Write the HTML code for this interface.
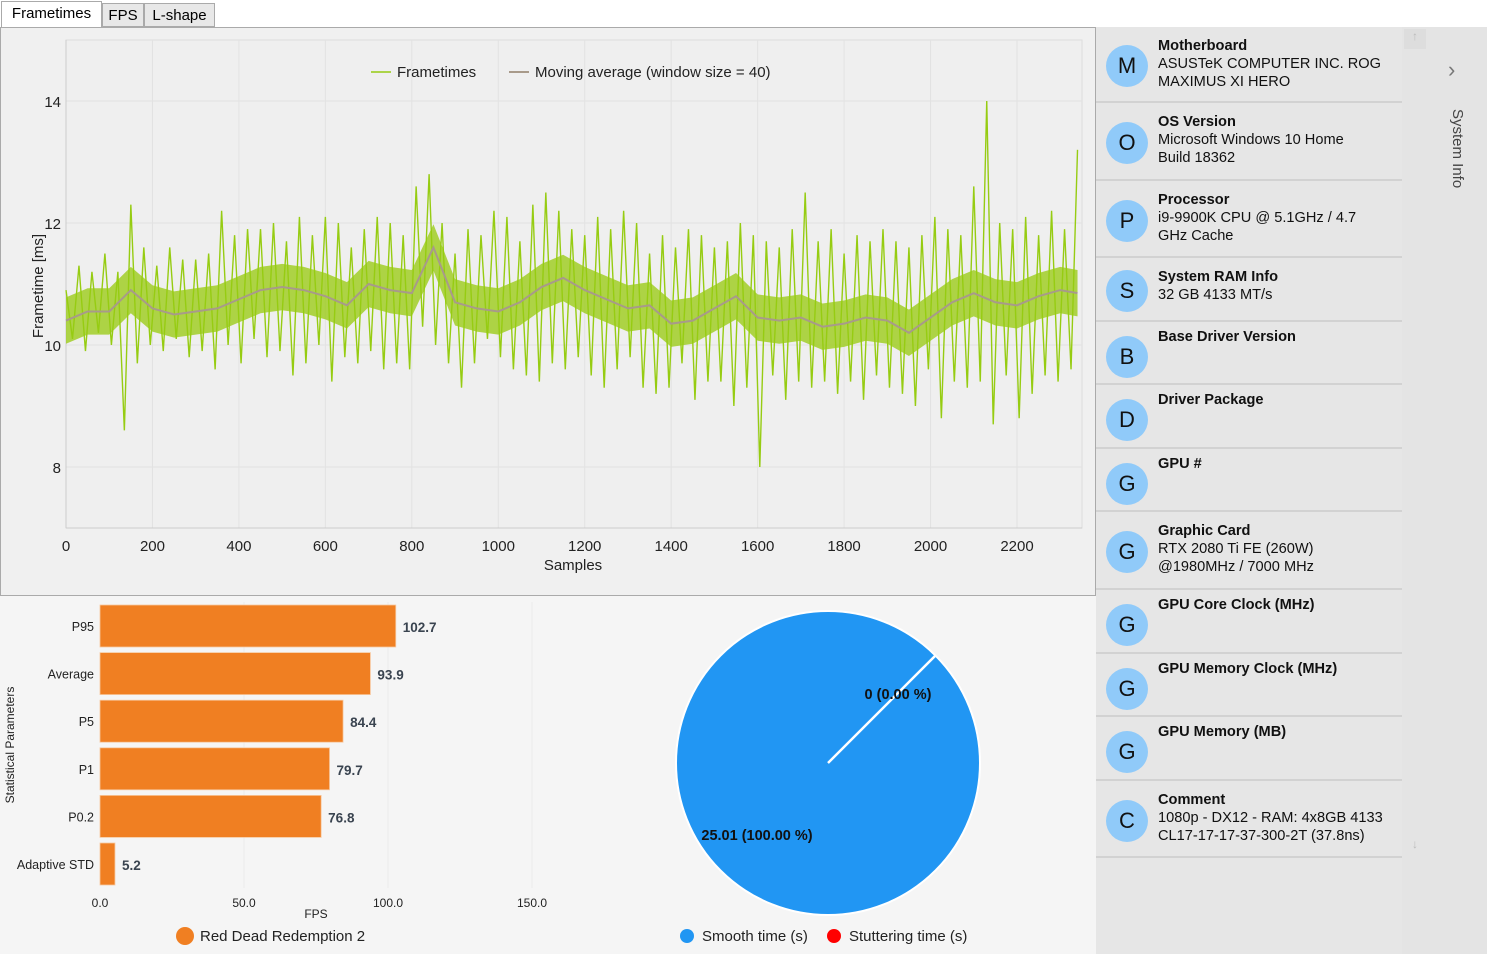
<!DOCTYPE html>
<html><head><meta charset="utf-8"><style>
body{margin:0;width:1487px;height:954px;overflow:hidden;background:#fff;font-family:"Liberation Sans",sans-serif;position:relative}
.tab{position:absolute;top:3px;height:24px;border:1px solid #aaa;background:#e8e8e8;font-size:15px;line-height:23px;text-align:center;box-sizing:border-box}
.side{position:absolute;left:1096px;top:27px;width:391px;height:927px;background:#e6e6e6}
.item{position:absolute;left:0;width:306px;border-bottom:2px solid #d2d2d2;box-sizing:border-box}
.circ{position:absolute;left:10px;width:42px;height:42px;border-radius:50%;background:#90caf9;font-size:22px;line-height:42px;text-align:center;color:#111}
.tt{position:absolute;left:62px;font-size:14.6px;line-height:18px;color:#111}
.tt b{display:block}
</style></head><body>
<div class="tab" style="left:1px;width:101px;background:#fff;border-bottom:none;top:1px;height:27px">Frametimes</div>
<div class="tab" style="left:102px;width:42px">FPS</div>
<div class="tab" style="left:144px;width:71px">L-shape</div>
<svg style="position:absolute;left:0;top:0" width="1096" height="954" id="main">
<rect x="0.5" y="27.5" width="1095" height="568" fill="#f0f0f0" stroke="#aaa"/>
<rect x="0" y="596" width="1096" height="358" fill="#f5f5f5"/>
</svg>
<div class="side" id="side">
<div style="position:absolute;left:306px;top:0;width:85px;height:927px;background:#e4e4e4"></div>
<div style="position:absolute;left:308px;top:2px;width:22px;height:20px;background:#ddd;color:#bbb;font-size:12px;text-align:center">↑</div>
<div style="position:absolute;left:308px;top:810px;width:22px;height:20px;color:#bbb;font-size:12px;text-align:center">↓</div>
<div style="position:absolute;left:352px;top:30px;color:#777;font-size:22px">›</div>
<div style="position:absolute;top:82px;transform:rotate(90deg);transform-origin:left top;left:370px;font-size:15px;color:#444;white-space:nowrap">System Info</div>
</div>
<script>
const ftStep=15;
const frametimes=[10.9,10.1,11.3,9.9,11.2,10.2,11.5,10.0,11.2,8.6,
12.3,9.7,11.6,10.0,11.3,9.9,11.6,10.1,11.4,9.8,
11.4,9.9,11.5,9.6,12.2,10.0,11.8,9.7,11.9,10.1,
11.9,9.8,12.0,9.9,11.7,9.5,12.1,9.7,11.8,10.0,
12.1,9.4,12.0,9.8,11.6,9.7,11.9,9.9,12.1,9.6,
12.0,9.7,11.8,9.6,12.6,10.3,12.8,10.0,12.0,9.7,
11.5,9.3,11.9,9.7,11.8,10.1,12.2,9.8,12.1,9.6,
11.7,9.5,12.3,9.4,12.5,9.7,12.2,9.6,11.9,9.8,
11.8,9.5,12.1,9.3,11.9,9.6,12.2,9.8,12.0,9.3,
11.5,9.2,11.8,9.3,11.6,9.7,11.9,9.1,11.8,9.4,
11.6,9.4,11.7,9.0,12.0,9.3,11.8,8.0,11.7,9.5,
11.6,9.1,11.9,9.4,12.5,9.3,11.7,9.4,11.9,9.2,
11.5,9.4,11.8,9.1,11.7,9.5,11.9,9.3,11.7,9.2,
11.6,9.0,11.8,9.6,12.1,8.8,11.9,9.4,11.8,9.3,
12.6,9.4,14.0,8.7,12.0,9.5,11.9,8.8,12.1,9.2,
11.8,9.5,12.2,9.4,11.9,9.6,13.2];
const maSamples=[0,50,100,150,200,250,300,350,400,450,500,550,600,650,700,750,800,850,900,950,1000,1050,1100,1150,1200,1250,1300,1350,1400,1450,1500,1550,1600,1650,1700,1750,1800,1850,1900,1950,2000,2050,2100,2150,2200,2250,2300,2340];
const movingAvg=[10.4,10.55,10.55,10.9,10.6,10.5,10.55,10.6,10.75,10.9,10.95,10.9,10.8,10.65,11.0,10.9,10.85,11.6,10.7,10.6,10.55,10.7,10.95,11.1,10.9,10.75,10.6,10.65,10.35,10.4,10.6,10.8,10.45,10.4,10.45,10.3,10.35,10.45,10.4,10.2,10.45,10.7,10.85,10.7,10.65,10.8,10.9,10.85];
const xTicks=[0,200,400,600,800,1000,1200,1400,1600,1800,2000,2200];
const yTicks=[8,10,12,14];
const barCats=["P95","Average","P5","P1","P0.2","Adaptive STD"];
const barVals=[102.7,93.9,84.4,79.7,76.8,5.2];
const barTicks=[0,50,100,150];
const pieLabels=["Smooth time (s)","Stuttering time (s)"];
const pieVals=[25.01,0];

const NS="http://www.w3.org/2000/svg";
const svg=document.getElementById('main');
function mk(tag,attrs,txt,parent){const e=document.createElementNS(NS,tag);for(const k in attrs)e.setAttribute(k,attrs[k]);if(txt!==undefined)e.textContent=txt;(parent||svg).appendChild(e);return e;}
const X=s=>66+s*(1017-66)/2200, Y=v=>345-(v-10)*61;
mk('rect',{x:66,y:40,width:1016,height:488,fill:'#efefef',stroke:'#ddd'});
xTicks.forEach(t=>{const g=mk('line',{x1:X(t),x2:X(t),y1:40,y2:528,stroke:'#e2e2e2'});

const l=mk('text',{x:X(t),y:551,'text-anchor':'middle','font-size':15,fill:'#222'},t);
});
yTicks.forEach(t=>{const g=mk('line',{x1:66,x2:1082,y1:Y(t),y2:Y(t),stroke:'#e2e2e2'});

const l=mk('text',{x:61,y:Y(t)+6,'text-anchor':'end','font-size':15,fill:'#222'},t);
});
mk('line',{x1:66,x2:66,y1:40,y2:528,stroke:'#ccc'});
mk('line',{x1:66,x2:1082,y1:528,y2:528,stroke:'#ccc'});
let t1=mk('text',{x:573,y:570,'text-anchor':'middle','font-size':15,fill:'#222'},'Samples');

let t2=mk('text',{x:43,y:286,'text-anchor':'middle','font-size':15,fill:'#222',transform:'rotate(-90 43 286)'},'Frametime [ms]');

let up=maSamples.map((s,i)=>X(s)+','+Y(movingAvg[i]+0.38)).join(' ');
let dn=maSamples.map((s,i)=>X(s)+','+Y(movingAvg[i]-0.38)).reverse().join(' ');
let band=mk('polygon',{points:up+' '+dn,fill:'#9ccc1a',opacity:0.8});

let ft=mk('polyline',{points:frametimes.map((v,i)=>X(i*ftStep)+','+Y(v)).join(' '),fill:'none',stroke:'#96cc12','stroke-width':1.4});

let ma=mk('polyline',{points:maSamples.map((s,i)=>X(s)+','+Y(movingAvg[i])).join(' '),fill:'none',stroke:'#a89a8a','stroke-width':2});

mk('line',{x1:371,x2:391,y1:72,y2:72,stroke:'#96cc12','stroke-width':1.5});
let lg1=mk('text',{x:397,y:77,'font-size':15,fill:'#222'},'Frametimes');

mk('line',{x1:509,x2:529,y1:72,y2:72,stroke:'#a89a8a','stroke-width':2});
let lg2=mk('text',{x:535,y:77,'font-size':15,fill:'#222'},'Moving average (window size = 40)');

const BX=v=>100+v*2.88;
barTicks.forEach(t=>{if(t>0){const g=mk('line',{x1:BX(t),x2:BX(t),y1:602,y2:888,stroke:'#ececec'});}
const l=mk('text',{x:BX(t),y:907,'text-anchor':'middle','font-size':12,fill:'#222'},t.toFixed(1));
});
barCats.forEach((c,i)=>{const y=605+i*47.6;
const r=mk('rect',{x:100,y:y,width:BX(barVals[i])-100,height:42,fill:'#f07f22',stroke:'#f7c9a0','stroke-width':0.8});

const l=mk('text',{x:94,y:y+26,'text-anchor':'end','font-size':12.5,fill:'#222'},c);

const v=mk('text',{x:BX(barVals[i])+7,y:y+27,'font-size':13.5,'font-weight':'bold',fill:'#3a4450'},barVals[i].toFixed(1));
});
let bt=mk('text',{x:316,y:918,'text-anchor':'middle','font-size':12,fill:'#222'},'FPS');

let by=mk('text',{x:14,y:745,'text-anchor':'middle','font-size':12,fill:'#222',transform:'rotate(-90 14 745)'},'Statistical Parameters');

mk('circle',{cx:185,cy:936,r:9,fill:'#f07f22'});
let bl=mk('text',{x:200,y:941,'font-size':15,fill:'#222'},'Red Dead Redemption 2');

const cx=828,cy=763,R=152,total=pieVals[0]+pieVals[1];
const pc=mk('circle',{cx:cx,cy:cy,r:R,fill:'#2196f3',stroke:'#fff','stroke-width':2});

const sl=mk('line',{x1:cx,y1:cy,x2:cx+R*Math.cos(-Math.PI/4),y2:cy+R*Math.sin(-Math.PI/4),stroke:'#fff','stroke-width':2.5});

const p1=mk('text',{x:898,y:699,'text-anchor':'middle','font-size':14.5,'font-weight':'bold',fill:'#111'},pieVals[1]+' ('+(pieVals[1]/total*100).toFixed(2)+' %)');

const p2=mk('text',{x:757,y:840,'text-anchor':'middle','font-size':14.5,'font-weight':'bold',fill:'#111'},pieVals[0].toFixed(2)+' ('+(pieVals[0]/total*100).toFixed(2)+' %)');

mk('circle',{cx:687,cy:936,r:7,fill:'#2196f3'});
const pl1=mk('text',{x:702,y:941,'font-size':15,fill:'#222'},pieLabels[0]);

mk('circle',{cx:834,cy:936,r:7,fill:'#f00'});
const pl2=mk('text',{x:849,y:941,'font-size':15,fill:'#222'},pieLabels[1]);

const items=[["M","Motherboard","ASUSTeK COMPUTER INC. ROG<br>MAXIMUS XI HERO",0,76],["O","OS Version","Microsoft Windows 10 Home<br>Build 18362",76,154],["P","Processor","i9-9900K CPU @ 5.1GHz / 4.7<br>GHz Cache",154,231],["S","System RAM Info","32 GB 4133 MT/s",231,295],["B","Base Driver Version","",295,358],["D","Driver Package","",358,422],["G","GPU #","",422,485],["G","Graphic Card","RTX 2080 Ti FE (260W)<br>@1980MHz / 7000 MHz",485,563],["G","GPU Core Clock (MHz)","",563,627],["G","GPU Memory Clock (MHz)","",627,690],["G","GPU Memory (MB)","",690,754],["C","Comment","1080p - DX12 - RAM: 4x8GB 4133<br>CL17-17-17-37-300-2T (37.8ns)",754,831]];
const side=document.getElementById('side');
items.forEach(it=>{const d=document.createElement('div');d.className='item';


const h=it[4]-it[3];d.style.top=it[3]+'px';d.style.height=h+'px';
const ct=it[2]?(h-42)/2+1:14;
d.innerHTML='<div class="circ" style="top:'+ct+'px">'+it[0]+'</div><div class="tt" style="top:'+(it[2]?10:6)+'px"><b>'+it[1]+'</b>'+it[2]+'</div>';
side.appendChild(d);});
</script>
</body></html>
